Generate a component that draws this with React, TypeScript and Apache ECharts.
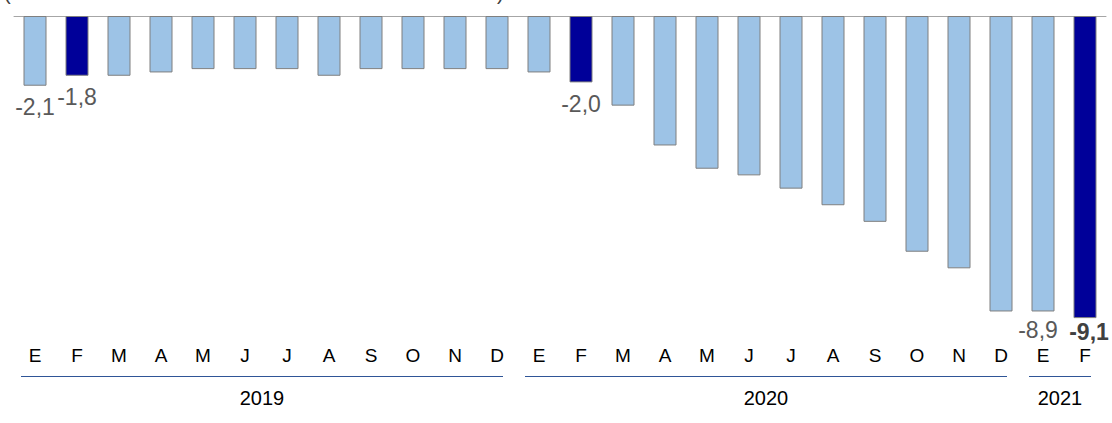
import React, { useEffect, useRef } from 'react';
import * as echarts from 'echarts';

// Month initials (Spanish), Jan 2019 .. Feb 2021
const months = ['E', 'F', 'M', 'A', 'M', 'J', 'J', 'A', 'S', 'O', 'N', 'D', 'E', 'F', 'M', 'A', 'M', 'J', 'J', 'A', 'S', 'O', 'N', 'D', 'E', 'F'];
// Values
const values = [-2.1, -1.8, -1.8, -1.7, -1.6, -1.6, -1.6, -1.8, -1.6, -1.6, -1.6, -1.6, -1.7, -2.0, -2.7, -3.9, -4.6, -4.8, -5.2, -5.7, -6.2, -7.1, -7.6, -8.9, -8.9, -9.1];
// Dark (highlighted) bars
const highlighted = [1, 13, 25];
// Bars that carry a value label
const labelled = [0, 1, 13, 24, 25];
const boldLabels = [25];
// Year groups
const yearLabels = ['2019', '2020', '2021'];
const yearStart = [0, 12, 24];
const yearEnd = [11, 23, 25];

const LIGHT = '#9DC3E6';
const DARK = '#000099';
const FONT = 'Liberation Sans, Arial, sans-serif';

const fmt = (v: number) => v.toFixed(1).replace('.', ',');

export default function App() {
  const ref = useRef<HTMLDivElement>(null);
  useEffect(() => {
    if (!ref.current) return;
    const chart = echarts.init(ref.current, undefined, { renderer: 'svg' });
    const data = values.map((v, i) => {
      const isDark = highlighted.includes(i);
      const hasLabel = labelled.includes(i);
      const bold = boldLabels.includes(i);
      const last = i === values.length - 1;
      const prevOfLast = i === values.length - 2;
      return {
        value: v,
        itemStyle: { color: isDark ? DARK : LIGHT },
        label: hasLabel
          ? {
              show: true,
              position: 'bottom',
              distance: 10,
              offset: last ? [4, -8] : prevOfLast ? [-5, -3] : [0, 0],
              formatter: fmt(v),
              fontSize: 23,
              fontWeight: bold ? 'bold' : 'normal',
              color: bold ? '#404040' : '#595959',
              fontFamily: FONT,
            }
          : { show: false },
      };
    });
    chart.setOption({
      animation: false,
      grid: { left: 14, right: 6, top: 16, bottom: 91.6 },
      xAxis: [
        {
          type: 'category',
          data: months,
          position: 'top',
          axisLine: { show: true, onZero: false, lineStyle: { color: '#A6A6A6', width: 1 } },
          axisTick: { show: false },
          axisLabel: { show: false },
          splitLine: { show: false },
        },
        {
          type: 'category',
          data: months,
          position: 'bottom',
          axisLine: { show: false, onZero: false },
          axisTick: { show: false },
          axisLabel: { show: true, margin: 15, fontSize: 19, color: '#000000', fontFamily: FONT },
          splitLine: { show: false },
        },
      ],
      yAxis: {
        type: 'value',
        min: -9.5,
        max: 0,
        show: false,
        splitLine: { show: false },
      },
      series: [
        {
          type: 'bar',
          data,
          xAxisIndex: 0,
          barWidth: 23,
          itemStyle: { borderColor: '#7F7F7F', borderWidth: 1 },
        },
      ],
    });

    const cx = (i: number) => chart.convertToPixel({ xAxisIndex: 0 }, i) as number;
    const graphics: any[] = [
      {
        type: 'text',
        left: 4,
        top: -17,
        style: { text: '(', fontSize: 20, fill: '#404040', fontFamily: FONT },
      },
      {
        type: 'text',
        left: 497,
        top: -17,
        style: { text: ')', fontSize: 20, fill: '#404040', fontFamily: FONT },
      },
    ];
    yearLabels.forEach((y, k) => {
      const x1 = Math.round(cx(yearStart[k]) - 14);
      const x2 = Math.round(cx(yearEnd[k]) + 6);
      graphics.push({
        type: 'line',
        shape: { x1, y1: 376.5, x2, y2: 376.5 },
        style: { stroke: '#2F5597', lineWidth: 1 },
      });
      graphics.push({
        type: 'text',
        x: (x1 + x2) / 2,
        y: 398,
        style: { text: y, fontSize: 20, fill: '#000000', fontFamily: FONT, align: 'center', verticalAlign: 'middle' },
      });
    });
    chart.setOption({ graphic: graphics });
    return () => chart.dispose();
  }, []);
  return <div ref={ref} style={{ position: 'absolute', left: 0, top: 0, width: 1112, height: 423 }} />;
}
